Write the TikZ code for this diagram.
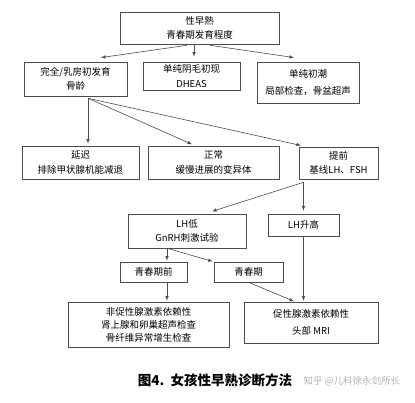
\documentclass[tikz,border=0pt]{standalone}
\usepackage{fontspec}
\setmainfont{Noto Sans CJK SC}
\usepackage{xcolor}
\usetikzlibrary{calc}
\tikzset{
	box/.style={draw=black!70,line width=0.6pt,align=center,inner sep=1pt,font=\fontsize{9.5}{14.5}\selectfont},%
	link/.style={draw=black!70,line width=0.6pt,-latex,shorten >=1pt},%
	caption/.style={font=\fontsize{13.5}{15}\selectfont\bfseries},%
	watermark/.style={text=black!30,font=\fontsize{9.5}{11}\selectfont},%
}
\def\gap{4pt}

\begin{document}
\begin{tikzpicture}[%
		x=1pt,y=-1pt,%
		]
		\useasboundingbox[fill=white] (0,0) rectangle (415,403);
		% top level
		\node[box,minimum width=159pt,minimum height=32pt] (top) at (199.5,28) {性早熟\\青春期发育程度};
		\node[box,minimum width=103pt,minimum height=34pt] (full) at (75.5,79) {完全/乳房初发育\\骨龄};
		\node[box,minimum width=97pt,minimum height=28pt] (pubic) at (191.5,76) {单纯阴毛初现\\DHEAS};
		\node[box,minimum width=102pt,minimum height=41pt,font=\fontsize{9.5}{17}\selectfont] (menarche) at (308,82.5) {单纯初潮\\局部检查，骨盆超声};
		% bone age
		\node[box,minimum width=117pt,minimum height=33pt] (delayed) at (80.5,162.5) {延迟\\排除甲状腺机能减退};
		\node[box,minimum width=131pt,minimum height=33pt] (normal) at (213.5,162.5) {正常\\缓慢进展的变异体};
		\node[box,minimum width=79pt,minimum height=32pt] (early) at (338.5,163) {提前\\基线LH、FSH};
		% LH
		\node[box,minimum width=118pt,minimum height=34pt] (lhlow) at (187,231) {LH低\\GnRH刺激试验};
		\node[box,minimum width=71pt,minimum height=22pt] (lhhigh) at (303.5,225) {LH升高};
		\node[box,minimum width=67pt,minimum height=20pt] (prepub) at (153.5,272) {青春期前};
		\node[box,minimum width=69pt,minimum height=20pt] (pub) at (248.5,272) {青春期};
		% results
		\node[box,minimum width=161pt,minimum height=45pt,font=\fontsize{9.5}{13}\selectfont] (indep) at (148.5,324.5) {非促性腺激素依赖性\\肾上腺和卵巢超声检查\\骨纤维异常增生检查};
		\node[box,minimum width=134pt,minimum height=41pt,font=\fontsize{9.5}{17}\selectfont] (dep) at (311,322.5) {促性腺激素依赖性\\头部 MRI};
		% connectors
		\draw[link] ([xshift=-12.5pt,yshift=-1pt]top.south) -- ([xshift=24.5pt,yshift=\gap]full.north);
		\draw[link] ([xshift=-5.5pt,yshift=-1pt]top.south) -- ([xshift=2.5pt,yshift=\gap]pubic.north);
		\draw[link] ([xshift=10.5pt,yshift=-1pt]top.south) -- ([xshift=-13pt,yshift=\gap]menarche.north);
		\coordinate (fullsplit) at ([xshift=12.5pt,yshift=-2pt]full.south);
		\draw[link] (fullsplit) -- ([yshift=1pt]fullsplit |- delayed.north);
		\draw[link] (fullsplit) -- ([xshift=-20.5pt,yshift=1pt]normal.north);
		\draw[link] (fullsplit) -- ([xshift=-36.5pt,yshift=1pt]early.north);
		\coordinate (earlysplit) at ([yshift=-3pt]early.south -| lhhigh.north);
		\draw[link] (earlysplit) -- ([xshift=24pt,yshift=2pt]lhlow.north);
		\draw[link] (earlysplit) -- ([yshift=2pt]lhhigh.north);
		\coordinate (lowsplit) at ([xshift=-20pt]lhlow.south);
		\draw[link] (lowsplit) -- (lowsplit |- prepub.north);
		\draw[link] (lowsplit) -- (pub.north west);
		\draw[link] (lowsplit |- prepub.south) -- (lowsplit |- indep.north);
		\draw[link] (pub.south) -- ([xshift=-16pt]dep.north);
		\draw[link] (lhhigh.south) -- (lhhigh.south |- dep.north);
		% caption
		\node[caption] (title) at (215,380) {图4.\ \ 女孩性早熟诊断方法};
		\node[watermark,anchor=west] (mark) at (300,381) {知乎 @儿科徐永剑所长};
	\end{tikzpicture}
\end{document}
